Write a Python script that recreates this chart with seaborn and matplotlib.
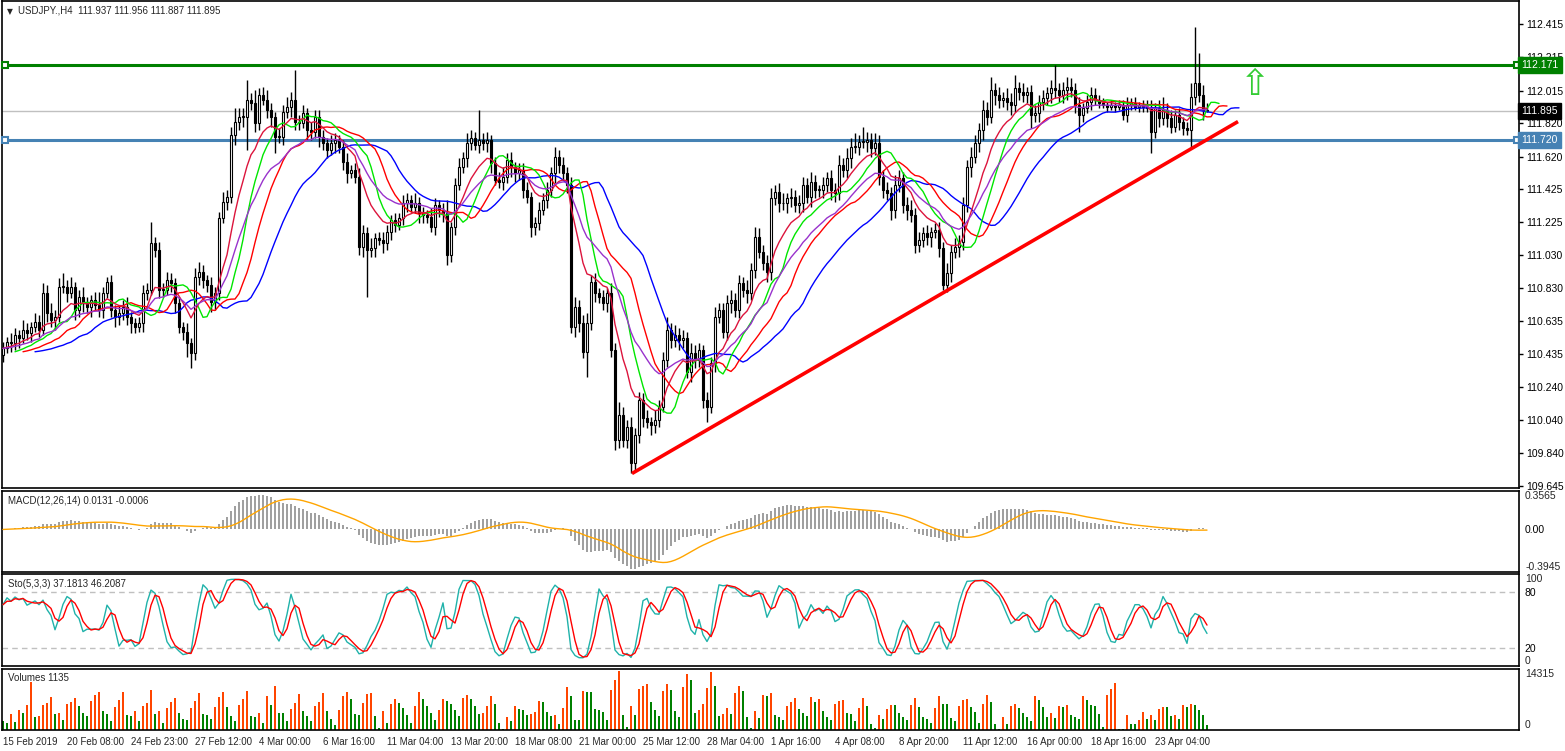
import numpy as np
import pandas as pd
import matplotlib
matplotlib.use("Agg")
import matplotlib.pyplot as plt
import matplotlib.transforms as mtransforms
import seaborn as sns

# USDJPY H4 closes (15 Feb - 25 Apr 2019)
close = [
    110.47, 110.51, 110.50, 110.55, 110.53, 110.58, 110.56, 110.60, 110.63, 110.58,
    110.80, 110.68, 110.64, 110.66, 110.84, 110.84, 110.80, 110.84, 110.70, 110.78,
    110.74, 110.72, 110.76, 110.73, 110.70, 110.80, 110.87, 110.70, 110.66, 110.68,
    110.72, 110.66, 110.62, 110.60, 110.62, 110.80, 110.82, 111.10, 111.06, 110.82,
    110.82, 110.88, 110.86, 110.74, 110.60, 110.57, 110.50, 110.44, 110.90, 110.93,
    110.88, 110.85, 110.75, 110.80, 111.25, 111.35, 111.38, 111.75, 111.83, 111.86,
    111.86, 111.96, 111.94, 111.82, 111.99, 111.96, 111.90, 111.86, 111.74, 111.74,
    111.89, 111.92, 111.96, 111.83, 111.82, 111.88, 111.78, 111.77, 111.86, 111.74,
    111.70, 111.66, 111.70, 111.72, 111.68, 111.59, 111.52, 111.54, 111.50, 111.08,
    111.16, 111.06, 111.07, 111.13, 111.12, 111.10, 111.17, 111.24, 111.21, 111.25,
    111.34, 111.36, 111.32, 111.34, 111.28, 111.27, 111.26, 111.20, 111.33, 111.30,
    111.28, 111.03, 111.20, 111.45, 111.56, 111.61, 111.70, 111.73, 111.69, 111.72,
    111.70, 111.72, 111.58, 111.48, 111.47, 111.50, 111.60, 111.56, 111.52, 111.54,
    111.42, 111.38, 111.20, 111.22, 111.30, 111.36, 111.42, 111.52, 111.62, 111.57,
    111.52, 111.45, 110.60, 110.72, 110.62, 110.45, 110.62, 110.87, 110.80, 110.78,
    110.74, 110.80, 110.46, 109.92, 110.07, 109.92, 110.00, 109.78, 109.95, 110.16,
    110.05, 110.03, 110.01, 110.04, 110.12, 110.40, 110.58, 110.52, 110.55, 110.52,
    110.53, 110.33, 110.44, 110.40, 110.46, 110.16, 110.12, 110.38, 110.66, 110.70,
    110.57, 110.74, 110.76, 110.70, 110.86, 110.82, 110.80, 110.94, 111.14, 111.05,
    110.98, 110.93, 111.37, 111.41, 111.34, 111.34, 111.37, 111.38, 111.33, 111.34,
    111.45, 111.38, 111.47, 111.42, 111.42, 111.45, 111.49, 111.42, 111.40, 111.57,
    111.54, 111.61, 111.68, 111.68, 111.71, 111.71, 111.72, 111.67, 111.70, 111.50,
    111.42, 111.40, 111.30, 111.45, 111.49, 111.33, 111.30, 111.27, 111.09, 111.12,
    111.16, 111.14, 111.17, 111.18, 111.07, 110.85, 110.92, 111.05, 111.08, 111.11,
    111.33, 111.56, 111.62, 111.70, 111.78, 111.90, 111.86, 112.02, 111.99, 111.96,
    111.97, 111.95, 111.93, 112.03, 112.01, 111.99, 112.01, 111.87, 111.88, 111.95,
    111.97, 112.00, 112.03, 112.02, 111.99, 112.02, 112.04, 112.02, 111.93, 111.87,
    111.91, 111.95, 111.99, 111.96, 111.94, 111.93, 111.92, 111.93, 111.92, 111.93,
    111.87, 111.93, 111.94, 111.92, 111.93, 111.92, 111.91, 111.77, 111.91, 111.85,
    111.90, 111.85, 111.80, 111.87, 111.83, 111.79, 111.78, 111.98, 112.06, 111.99,
    111.90, 111.895,
]
first_open = 110.43

# wick lengths above / below the body, in pips (0.01)
wick_up = [
    4, 3, 5, 4, 3, 6, 4, 3, 5, 4,   6, 5, 6, 4, 5, 8, 4, 6, 3, 4,
    6, 4, 3, 5, 8, 4, 3, 4, 3, 5,   4, 6, 3, 3, 4, 5, 4, 13, 4, 5,
    4, 5, 4, 3, 4, 3, 5, 3, 5, 6,   4, 3, 5, 4, 4, 6, 4, 5, 8, 5,
    5, 12, 4, 8, 4, 5, 6, 4, 3, 5,  4, 6, 5, 18, 4, 5, 3, 5, 4, 4,
    4, 3, 5, 4, 3, 4, 5, 3, 4, 5,   5, 4, 6, 3, 4, 5, 4, 3, 4, 3,
    5, 4, 3, 6, 4, 4, 3, 5, 4, 3,   4, 8, 3, 4, 5, 4, 6, 5, 4, 18,
    4, 5, 3, 4, 5, 6, 4, 5, 3, 4,   4, 5, 3, 4, 5, 4, 5, 4, 6, 4,
    5, 4, 5, 6, 4, 5, 6, 4, 5, 3,   4, 3, 6, 4, 8, 5, 4, 6, 4, 5,
    4, 5, 3, 6, 4, 5, 8, 4, 6, 4,   5, 4, 6, 5, 4, 3, 5, 4, 6, 4,
    4, 5, 6, 4, 5, 4, 6, 4, 6, 5,   4, 5, 6, 4, 5, 6, 3, 5, 4, 5,
    5, 4, 6, 4, 3, 5, 4, 5, 4, 6,   4, 6, 5, 8, 4, 9, 5, 4, 6, 5,
    4, 5, 4, 6, 5, 4, 5, 6, 4, 5,   4, 5, 3, 4, 5, 4, 6, 4, 5, 4,
    5, 4, 6, 5, 4, 6, 5, 8, 4, 5,   4, 6, 5, 8, 4, 5, 3, 4, 5, 4,
    5, 4, 5, 14, 4, 5, 6, 5, 4, 5,  3, 4, 5, 4, 3, 3, 2, 3, 2, 3,
    3, 5, 3, 4, 2, 3, 4, 5, 3, 5,   8, 4, 5, 3, 4, 3, 4, 8, 34, 18,
    6, 4,
]
wick_dn = [
    4, 3, 5, 4, 6, 3, 4, 5, 3, 4,   3, 5, 4, 6, 3, 4, 5, 3, 6, 4,
    5, 4, 6, 3, 4, 5, 3, 4, 6, 5,   4, 5, 6, 4, 3, 5, 4, 3, 4, 5,
    4, 3, 5, 6, 4, 5, 8, 9, 4, 5,   5, 4, 6, 5, 4, 3, 5, 4, 6, 5,
    6, 20, 4, 5, 4, 3, 5, 6, 10, 4, 5, 4, 6, 5, 4, 3, 6, 5, 4, 6,
    4, 5, 3, 6, 4, 5, 6, 3, 4, 5,   6, 28, 4, 5, 3, 6, 4, 5, 4, 3,
    4, 5, 3, 4, 6, 5, 4, 3, 5, 4,   5, 6, 4, 5, 3, 4, 5, 4, 3, 5,
    4, 5, 6, 3, 4, 5, 4, 6, 5, 4,   5, 4, 6, 5, 4, 3, 5, 4, 6, 5,
    4, 5, 4, 6, 5, 4, 15, 4, 5, 4,  4, 5, 4, 6, 5, 4, 5, 6, 4, 5,
    5, 4, 6, 5, 4, 3, 4, 5, 4, 6,   5, 4, 6, 5, 4, 5, 9, 4, 5, 4,
    4, 5, 6, 4, 5, 4, 6, 4, 5, 4,   4, 6, 5, 4, 5, 4, 6, 5, 4, 5,
    5, 4, 6, 5, 4, 5, 4, 6, 5, 4,   4, 5, 6, 4, 5, 4, 6, 5, 4, 5,
    5, 4, 6, 5, 4, 5, 6, 4, 5, 4,   4, 5, 6, 4, 5, 3, 4, 5, 4, 6,
    5, 4, 6, 4, 5, 6, 5, 4, 6, 5,   4, 5, 6, 4, 5, 4, 5, 8, 4, 5,
    5, 4, 6, 5, 4, 5, 6, 4, 5, 10,  4, 3, 5, 3, 3, 2, 3, 2, 3, 2,
    3, 4, 3, 2, 3, 3, 2, 13, 4, 5,  4, 5, 4, 3, 5, 4, 3, 11, 5, 4,
    6, 1,
]

# tick volume per bar
volume = [
    2000, 1760, 3680, 1840, 4640, 3920, 5840, 11360, 2960, 3200,
    5840, 6320, 7760, 3760, 3920, 2240, 6160, 6480, 7520, 5600,
    3920, 3200, 6800, 8240, 8960, 4400, 3760, 2000, 5360, 7040,
    8960, 3440, 3200, 4400, 2000, 5600, 6320, 9440, 3680, 4400,
    1760, 5120, 6560, 7520, 3920, 2480, 2400, 5120, 6800, 8720,
    3680, 3600, 2480, 5360, 7760, 8960, 5360, 3200, 2000, 5840,
    7280, 9200, 3200, 2960, 3920, 1760, 8000, 5840, 10400, 3920,
    3900, 2000, 4880, 6320, 8480, 4400, 3200, 2000, 5600, 6560,
    8720, 4400, 2480, 1280, 4640, 8000, 8960, 7280, 3680, 3440,
    6320, 8480, 8720, 3200, 560, 4400, 1760, 6080, 7280, 6320,
    5120, 3440, 1760, 5600, 8960, 7280, 5600, 3920, 2240, 4640,
    7280, 6800, 6080, 4640, 3200, 7520, 8240, 7280, 5600, 3680,
    3920, 5600, 8000, 6080, 1760, 320, 2960, 2000, 5600, 4880,
    4640, 3440, 3680, 4160, 6800, 6560, 4160, 3200, 3440, 1520,
    5120, 10160, 8000, 2240, 2240, 9200, 8960, 8960, 4880, 4640,
    4240, 2240, 9440, 11680, 13760, 3440, 640, 5600, 3440, 9680,
    10400, 10880, 6560, 4640, 3200, 9200, 10880, 9440, 4400, 2960,
    10160, 13040, 11840, 3920, 4640, 6160, 9920, 13520, 10400, 3200,
    3680, 5120, 3680, 8720, 10400, 9200, 2960, 560, 4400, 2720,
    8240, 8000, 8720, 3440, 2960, 2240, 5600, 6560, 7520, 4880,
    3920, 3200, 7760, 6560, 7280, 4400, 2960, 2240, 6080, 6800,
    7040, 3920, 3840, 2000, 5120, 7520, 5600, 1520, 560, 3440,
    2480, 4880, 5840, 5840, 3920, 2960, 2240, 5840, 7520, 5360,
    2960, 2480, 1760, 5120, 8000, 6080, 6080, 2720, 2000, 5600,
    7040, 7280, 5360, 4160, 1760, 6080, 8240, 6560, 1520, 320,
    2960, 1520, 5600, 6080, 5120, 3920, 2960, 2000, 8000, 7040,
    5360, 2960, 3920, 2720, 5600, 5360, 5840, 3440, 2960, 2480,
    8000, 7040, 5840, 5600, 3680, 800, 8240, 9680, 11120, 320,
    320, 3440, 1520, 1520, 2240, 4160, 2480, 3440, 2240, 4880,
    5360, 5360, 3200, 3440, 2480, 5840, 5360, 6080, 5840, 4640,
    3440, 1135,
]

date_labels = ["15 Feb 2019", "20 Feb 08:00", "24 Feb 23:00", "27 Feb 12:00",
               "4 Mar 00:00", "6 Mar 16:00", "11 Mar 04:00", "13 Mar 20:00",
               "18 Mar 08:00", "21 Mar 00:00", "25 Mar 12:00", "28 Mar 04:00",
               "1 Apr 16:00", "4 Apr 08:00", "8 Apr 20:00", "11 Apr 12:00",
               "16 Apr 00:00", "18 Apr 16:00", "23 Apr 04:00"]
bars_per_label = 16

price_ticks = [112.415, 112.215, 112.015, 111.820, 111.620, 111.425, 111.225, 111.030,
               110.830, 110.635, 110.435, 110.240, 110.040, 109.840, 109.645]
resistance = 112.171
support = 111.720
last_price = 111.895
trend_start = (157.25, 109.72)   # (bar, price)
trend_end = (308.75, 111.83)
arrow_at = (313, 112.05)

# ---------------------------------------------------------------- data prep
df = pd.DataFrame({"close": close})
df["open"] = [first_open] + close[:-1]
df["high"] = df[["open", "close"]].max(axis=1) + np.array(wick_up) / 100
df["low"] = df[["open", "close"]].min(axis=1) - np.array(wick_dn) / 100
df["volume"] = volume
idx = np.arange(len(df))

median = (df.high + df.low) / 2
smma = lambda s, n: s.ewm(alpha=1 / n, adjust=False).mean()
jaw, teeth, lips = smma(median, 13), smma(median, 8), smma(median, 5)
ema10 = df.close.ewm(span=10, adjust=False).mean()
ema21 = df.close.ewm(span=21, adjust=False).mean()

macd = df.close.ewm(span=12, adjust=False).mean() - df.close.ewm(span=26, adjust=False).mean()
macd_sig = macd.rolling(14, min_periods=1).mean()

ll = df.low.rolling(5, min_periods=1).min()
hh = df.high.rolling(5, min_periods=1).max()
sto_k = (df.close - ll).rolling(3, min_periods=1).sum() / (hh - ll).rolling(3, min_periods=1).sum() * 100
sto_d = sto_k.rolling(3, min_periods=1).mean()

vol_up = df.volume > df.volume.shift(1)

# ---------------------------------------------------------------- figure
sns.set_style("white")
plt.rcParams["font.family"] = ["Liberation Sans", "DejaVu Sans"]
FS = 7.5   # right-hand scale
FT = 7.0   # titles and dates
W, H = 1565, 751
fig = plt.figure(figsize=(W / 100, H / 100), dpi=100)


def rect(top, bottom):
    return [2 / W, 1 - bottom / H, 1517 / W, (bottom - top) / H]


ax_p = fig.add_axes(rect(1, 488))
ax_m = fig.add_axes(rect(491, 572), sharex=ax_p)
ax_s = fig.add_axes(rect(574, 666), sharex=ax_p)
ax_v = fig.add_axes(rect(669, 730), sharex=ax_p)

for ax in (ax_p, ax_m, ax_s, ax_v):
    ax.set_facecolor("white")
    for sp in ax.spines.values():
        sp.set_color("black")
        sp.set_linewidth(1.2)
    ax.yaxis.tick_right()
    ax.tick_params(axis="y", labelsize=FS, length=0, pad=4, colors="black")
    ax.tick_params(axis="x", length=0, labelbottom=False)
    ax.set_xlabel("")
    ax.set_ylabel("")

ax_p.set_xlim(-0.25, 379)

# ---- price panel
ax_p.set_ylim(109.633, 112.553)
ax_p.set_yticks(price_ticks)
ax_p.set_yticklabels([f"{t:.3f}" for t in price_ticks])
ax_p.tick_params(axis="y", length=3, width=1, pad=2, direction="out")

ax_p.axhline(last_price, color="#C0C0C0", lw=1, zorder=1)
ax_p.axhline(resistance, color="#008000", lw=2.2, zorder=1)
ax_p.axhline(support, color="#4682B4", lw=2.2, zorder=1)
for lvl, col in ((resistance, "#008000"), (support, "#4682B4")):
    ax_p.plot([0.6, 378.6], [lvl, lvl], ls="none", marker="s", ms=4.5,
              mfc="white", mec=col, mew=1.5, zorder=6, clip_on=False)

bull = df.close >= df.open
body_lo = df[["open", "close"]].min(axis=1)
body_h = (df.close - df.open).abs().clip(lower=0.004)
ax_p.vlines(idx, df.low, df.high, color="black", lw=1, zorder=2)
ax_p.bar(idx, body_h, bottom=body_lo, width=0.62,
         color=np.where(bull, "white", "black"), edgecolor="black", lw=0.8, zorder=3)

ma_lines = [
    (idx + 8, jaw, "#0000FF"),
    (idx + 5, teeth, "#FF0000"),
    (idx + 3, lips, "#00E600"),
    (idx, ema10, "#DC143C"),
    (idx, ema21, "#9932CC"),
]
for xs, ys, col in ma_lines:
    sns.lineplot(x=xs, y=ys.values, ax=ax_p, color=col, lw=1, estimator=None, zorder=4)

ax_p.plot([trend_start[0], trend_end[0]], [trend_start[1], trend_end[1]],
          color="#FF0000", lw=2.6, zorder=5, solid_capstyle="butt")
ax_p.text(arrow_at[0], arrow_at[1], "\u21E7", color="#33CC33", fontsize=26,
          ha="center", va="center", family="DejaVu Sans", zorder=6)

blend = mtransforms.blended_transform_factory(ax_p.transAxes, ax_p.transData)
for lvl, col in ((resistance, "#008000"), (last_price, "black"), (support, "#4682B4")):
    ax_p.text(1.0015, lvl, f"{lvl:.3f}", transform=blend, color="white", fontsize=FS,
              ha="left", va="center", zorder=10, clip_on=False,
              bbox=dict(boxstyle="square,pad=0.3", fc=col, ec=col))

ax_p.text(0.0053, 0.987, "\u25BC", transform=ax_p.transAxes, fontsize=5.5,
          va="top", ha="center", family="DejaVu Sans")
ax_p.text(0.0105, 0.99, "USDJPY.,H4  111.937 111.956 111.887 111.895",
          transform=ax_p.transAxes, fontsize=FT, va="top", ha="left")

# ---- MACD panel
ax_m.bar(idx, macd, width=0.7, color="#A0A0A0", lw=0, zorder=2)
sns.lineplot(x=idx, y=macd_sig.values, ax=ax_m, color="#FFA500", lw=1, estimator=None, zorder=3)
ax_m.set_ylim(-0.3945, 0.3565)
ax_m.set_yticks([0.0])
ax_m.set_yticklabels(["0.00"])
ax_m.text(1.004, 1.0, "0.3565", transform=ax_m.transAxes, fontsize=FS, va="top", ha="left")
ax_m.text(1.004, 0.0, "-0.3945", transform=ax_m.transAxes, fontsize=FS, va="bottom", ha="left")
ax_m.text(0.004, 0.94, "MACD(12,26,14) 0.0131 -0.0006", transform=ax_m.transAxes,
          fontsize=FT, va="top", ha="left")

# ---- Stochastic panel
for lv in (20, 80):
    ax_s.axhline(lv, color="#C0C0C0", lw=1, ls=(0, (4, 3)), zorder=1)
sns.lineplot(x=idx, y=sto_k.values, ax=ax_s, color="#20B2AA", lw=1, estimator=None, zorder=3)
sns.lineplot(x=idx, y=sto_d.values, ax=ax_s, color="#FF0000", lw=1, estimator=None, zorder=4)
ax_s.set_ylim(0, 100)
ax_s.set_yticks([20, 80])
ax_s.set_yticklabels(["20", "80"])
ax_s.text(1.004, 1.0, "100", transform=ax_s.transAxes, fontsize=FS, va="top", ha="left")
ax_s.text(1.004, 0.0, "0", transform=ax_s.transAxes, fontsize=FS, va="bottom", ha="left")
ax_s.text(0.004, 0.95, "Sto(5,3,3) 37.1813 46.2087", transform=ax_s.transAxes,
          fontsize=FT, va="top", ha="left")

# ---- Volumes panel
ax_v.bar(idx, df.volume, width=0.72, lw=0,
         color=np.where(vol_up, "#FF4500", "#008000"), zorder=2)
ax_v.set_ylim(0, 14315)
ax_v.set_yticks([])
ax_v.text(1.004, 1.0, "14315", transform=ax_v.transAxes, fontsize=FS, va="top", ha="left")
ax_v.text(1.004, 0.0, "0", transform=ax_v.transAxes, fontsize=FS, va="bottom", ha="left")
ax_v.text(0.004, 0.93, "Volumes 1135", transform=ax_v.transAxes,
          fontsize=FT, va="top", ha="left")

tick_pos = np.arange(len(date_labels)) * bars_per_label
ax_v.set_xticks(tick_pos)
ax_v.set_xticklabels(date_labels)
ax_v.tick_params(axis="x", labelbottom=True, length=3, width=1, direction="out",
                 labelsize=FT, pad=2)
for lab in ax_v.get_xticklabels():
    lab.set_horizontalalignment("left")

fig.savefig("out.png", dpi=100, facecolor="white")
